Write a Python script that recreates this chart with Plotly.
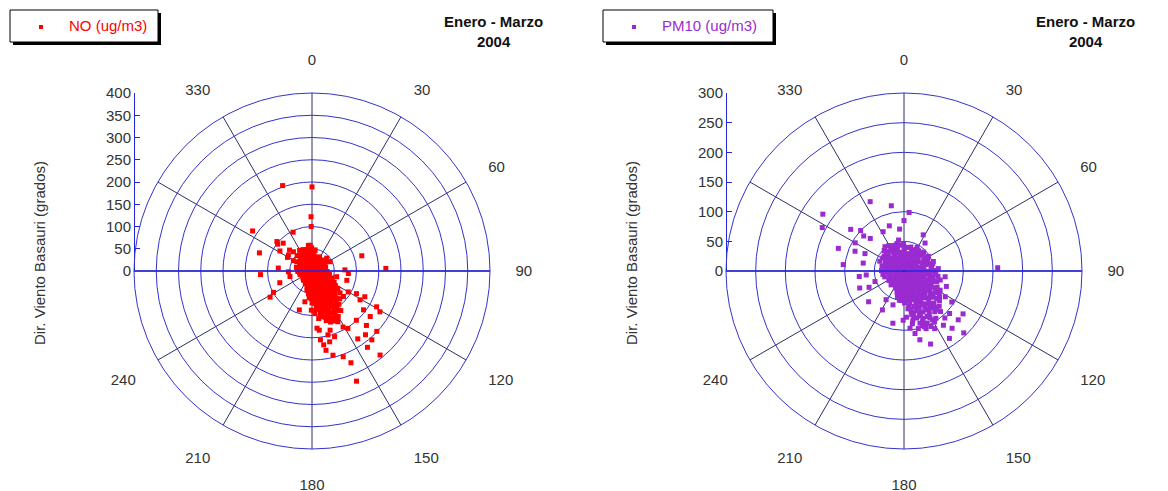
import plotly.graph_objects as go

# ---------------- data (direction in degrees, concentration in ug/m3) -------------
no_obs = [
    # dense core
    (0, 8), (2, 18), (358, 28), (1, 40), (359, 52),
    (10, 12), (12, 22), (9, 34), (8, 46),
    (20, 10), (22, 20), (18, 32),
    (30, 14), (32, 26), (28, 36),
    (45, 10), (47, 22), (43, 34),
    (60, 12), (62, 24), (58, 40),
    (75, 8), (77, 20), (73, 32),
    (90, 14), (88, 26), (92, 34),
    (100, 10), (102, 20), (98, 30), (101, 40),
    (110, 6), (112, 16), (108, 26), (111, 36), (109, 48),
    (120, 12), (122, 22), (118, 32), (121, 42), (119, 52), (122, 62),
    (126, 58), (124, 70),
    (130, 8), (132, 18), (128, 28), (131, 38), (129, 48), (132, 58), (130, 68), (128, 80),
    (136, 44), (134, 64), (137, 76), (135, 88),
    (140, 12), (142, 24), (138, 34), (141, 44), (139, 54), (142, 64), (140, 74), (138, 84), (141, 96),
    (145, 20), (146, 40), (144, 60), (147, 70), (145, 80), (143, 90), (146, 100), (144, 110),
    (150, 8), (152, 18), (148, 28), (151, 38), (149, 48), (152, 58), (150, 68), (148, 78),
    (151, 88), (149, 98), (152, 108), (150, 118), (153, 128),
    (155, 14), (156, 34), (154, 54), (157, 64), (155, 74), (153, 84), (156, 94), (154, 104),
    (157, 114), (155, 124),
    (160, 10), (162, 22), (158, 32), (161, 42), (159, 52), (162, 62), (160, 72), (158, 82),
    (161, 92), (159, 102), (162, 112), (160, 122),
    (165, 26), (166, 46), (164, 66), (167, 76), (165, 86), (163, 96), (166, 106), (164, 116),
    (170, 6), (172, 16), (168, 28), (171, 38), (169, 48), (172, 58), (170, 68), (168, 78),
    (171, 88), (169, 100), (172, 108),
    (175, 34), (176, 54), (174, 74), (177, 90),
    (180, 12), (182, 22), (178, 32), (181, 42), (179, 52), (182, 62), (180, 72),
    (190, 8), (192, 18), (188, 28), (191, 40), (189, 52),
    (200, 14), (202, 24), (198, 36),
    (210, 10), (212, 20), (208, 32),
    (225, 8), (227, 18), (223, 28),
    (240, 12), (242, 22),
    (255, 8), (257, 18), (253, 28),
    (270, 12), (272, 24), (268, 32),
    (285, 10), (287, 22), (283, 36),
    (300, 6), (302, 16), (298, 28), (301, 40),
    (315, 12), (317, 24), (313, 36), (316, 48),
    (330, 10), (332, 20), (328, 30), (331, 42), (329, 54),
    (345, 8), (347, 16), (343, 26), (346, 38), (344, 50),
    (5, 14), (6, 30), (4, 44), (355, 20), (354, 36), (352, 46), (15, 16), (16, 28),
    (25, 18), (38, 20), (38, 30), (52, 18), (52, 30), (67, 16), (68, 30), (82, 18),
    (83, 30), (95, 20), (105, 26), (105, 36), (115, 20), (115, 32), (115, 44), (117, 56),
    (127, 36), (126, 48), (133, 52), (133, 70), (137, 56), (143, 30), (143, 50), (147, 92),
    (148, 104), (152, 114), (153, 122), (157, 44), (158, 120), (163, 58), (164, 108),
    (167, 36), (167, 56), (168, 92), (173, 44), (173, 64), (173, 82), (176, 96), (177, 20),
    (185, 30), (185, 46), (186, 60), (195, 30), (195, 44), (205, 28), (217, 16), (217, 26),
    (232, 16), (232, 26), (247, 16), (262, 18), (262, 28), (278, 18), (278, 30), (292, 18),
    (292, 30), (308, 22), (308, 34), (322, 18), (322, 32), (322, 44), (337, 14), (337, 28),
    (337, 40), (337, 52), (352, 58),
    (150, 13), (150, 23), (150, 33), (150, 43), (150, 53), (150, 63), (150, 73), (150, 83),
    (150, 93), (150, 103), (160, 16), (160, 27), (160, 37), (160, 47), (160, 57), (160, 67),
    (160, 77), (160, 87), (160, 97), (160, 107), (170, 11), (170, 22), (170, 33), (170, 43),
    (170, 53), (170, 63), (170, 73), (170, 83), (140, 18), (140, 29), (140, 39), (140, 49),
    (140, 59), (140, 69), (140, 79), (130, 13), (130, 23), (130, 33), (130, 43), (130, 53),
    (130, 63), (180, 17), (180, 27), (180, 37), (180, 47), (180, 57), (120, 17), (120, 27),
    (120, 37), (120, 47),
    # scattered points
    (0, 189), (341, 203), (359, 122), (359, 100), (304, 161), (334, 97), (308, 98),
    (314, 90), (289, 125), (275, 76), (266, 116), (250, 77), (88, 74), (94, 82),
    (316, 60), (304, 64), (338, 51), (356, 58), (8, 48), (49, 44), (63, 46), (268, 53),
    (256, 51), (103, 57), (88, 166), (241, 99), (73, 117), (238, 111), (193, 71),
    (198, 92), (173, 134), (166, 164), (166, 195), (160, 205), (157, 224), (158, 267),
    (141, 243), (144, 212), (139, 205), (133, 199), (121, 178), (146, 184), (148, 152),
    (138, 149), (135, 173), (128, 166), (127, 145), (121, 126), (116, 132), (117, 112),
    (120, 94), (129, 91), (146, 106), (153, 123), (151, 144), (163, 139), (166, 148),
    (161, 156), (173, 156), (171, 168), (170, 181), (175, 129), (181, 88), (168, 101),
    (105, 81), (119, 166), (140, 187), (310, 103), (302, 85), (313, 69), (299, 63), (299, 48),
]

pm10_obs = [
    # dense core
    (0, 6), (2, 16), (358, 26), (1, 36), (359, 46),
    (15, 10), (17, 20), (13, 30), (16, 42),
    (30, 8), (32, 18), (28, 28), (31, 38), (29, 46),
    (45, 12), (47, 24), (43, 36), (46, 46),
    (60, 8), (62, 18), (58, 28), (61, 38), (59, 48),
    (75, 14), (77, 26), (73, 38), (76, 50),
    (90, 8), (92, 18), (88, 28), (91, 40), (89, 52),
    (100, 14), (102, 26), (98, 38), (101, 50), (99, 58),
    (110, 8), (112, 18), (108, 30), (111, 42), (109, 54),
    (120, 14), (122, 24), (118, 36), (121, 48), (119, 60), (122, 70),
    (130, 8), (132, 20), (128, 32), (131, 44), (129, 56), (132, 66), (130, 78),
    (136, 50), (134, 62), (137, 74), (135, 84),
    (140, 14), (142, 26), (138, 38), (141, 50), (139, 60), (142, 70), (140, 80), (138, 92),
    (145, 20), (146, 44), (144, 56), (147, 66), (145, 76), (143, 86), (146, 96),
    (150, 8), (152, 18), (148, 30), (151, 40), (149, 50), (152, 60), (150, 70), (148, 80),
    (151, 90), (149, 100),
    (155, 24), (156, 46), (154, 56), (157, 66), (155, 76), (153, 86), (156, 96), (154, 104),
    (160, 12), (162, 24), (158, 36), (161, 46), (159, 56), (162, 66), (160, 76), (158, 86),
    (161, 96), (159, 104),
    (165, 30), (166, 50), (164, 62), (167, 72), (165, 82), (163, 92), (166, 100),
    (170, 6), (172, 18), (168, 30), (171, 40), (169, 50), (172, 60), (170, 70), (168, 80), (171, 90),
    (175, 24), (176, 44), (174, 64), (177, 78),
    (180, 12), (182, 22), (178, 34), (181, 44), (179, 54),
    (190, 8), (192, 18), (188, 30), (191, 42), (189, 50),
    (200, 14), (202, 26), (198, 38),
    (210, 8), (212, 18), (208, 30),
    (225, 12), (227, 22), (223, 32),
    (240, 8), (242, 18), (238, 30),
    (255, 12), (257, 24), (253, 34),
    (270, 8), (272, 18), (268, 28), (271, 38),
    (285, 14), (287, 26), (283, 38),
    (300, 8), (302, 18), (298, 30), (301, 42),
    (315, 12), (317, 24), (313, 36), (316, 48),
    (330, 8), (332, 18), (328, 30), (331, 40), (329, 50),
    (345, 14), (347, 26), (343, 38), (346, 48),
    (352, 20), (353, 32), (351, 44),
    (22, 14), (23, 26), (21, 38),
    (37, 20), (38, 32), (36, 42),
    (52, 16), (53, 30), (51, 42),
    (67, 20), (68, 34), (66, 44),
    (82, 10), (83, 22), (81, 34), (82, 46),
    (95, 20), (96, 32), (94, 44), (95, 54),
    (105, 22), (106, 34), (104, 46),
    (115, 12), (116, 24), (114, 38), (115, 50), (116, 62),
    (125, 26), (126, 40), (124, 52), (125, 64), (126, 74),
    (185, 16), (186, 28), (184, 40), (185, 50),
    (195, 22), (196, 36), (194, 46),
    (205, 20), (206, 32),
    (218, 16), (219, 28),
    (232, 14), (233, 26),
    (248, 14), (249, 26),
    (262, 14), (263, 26), (261, 36),
    (278, 20), (279, 32),
    (292, 10), (293, 22), (291, 34), (292, 44),
    (308, 16), (309, 30), (307, 42),
    (322, 16), (323, 28), (321, 42), (322, 52),
    (338, 12), (339, 24), (337, 36), (338, 46),
    (0, 21), (0, 41), (8, 12), (8, 28), (8, 40), (22, 34), (30, 23), (30, 42), (45, 18),
    (45, 30), (45, 42), (60, 23), (60, 43), (75, 20), (75, 32), (75, 44), (90, 14), (90, 23),
    (90, 34), (90, 46), (100, 20), (100, 32), (100, 44), (110, 13), (110, 24), (110, 36),
    (110, 48), (120, 19), (120, 30), (120, 42), (120, 54), (120, 64), (130, 14), (130, 26),
    (130, 38), (130, 50), (130, 60), (130, 72), (140, 20), (140, 32), (140, 44), (140, 55),
    (140, 65), (140, 75), (140, 86), (150, 13), (150, 24), (150, 35), (150, 45), (150, 55),
    (150, 65), (150, 75), (150, 85), (150, 95), (160, 18), (160, 30), (160, 41), (160, 51),
    (160, 61), (160, 71), (160, 81), (160, 91), (160, 100), (170, 12), (170, 24), (170, 35),
    (170, 45), (170, 55), (170, 65), (170, 75), (170, 85), (180, 17), (180, 28), (180, 39),
    (180, 49), (190, 13), (190, 24), (190, 36), (200, 20), (200, 32), (215, 12), (215, 24),
    (240, 13), (240, 24), (270, 13), (270, 23), (270, 33), (300, 13), (300, 24), (300, 36),
    (315, 18), (315, 30), (315, 42), (330, 13), (330, 24), (330, 35), (330, 45), (345, 20),
    (345, 32), (345, 43),
    # scattered points
    (334, 130), (349, 112), (5, 99), (0, 85), (342, 80), (354, 71), (308, 114), (313, 100),
    (311, 90), (314, 79), (332, 75), (350, 53), (28, 69), (37, 59), (289, 117), (300, 95),
    (292, 89), (294, 72), (276, 103), (281, 70), (263, 76), (250, 52), (245, 65), (72, 52),
    (86, 58), (108, 58), (88, 158), (298, 156), (305, 167), (264, 64), (229, 79), (209, 75),
    (198, 60), (212, 57), (192, 90), (170, 107), (167, 119), (160, 131), (140, 126),
    (146, 137), (136, 145), (132, 123), (126, 123), (133, 105), (139, 105), (144, 113),
    (152, 110), (159, 100), (123, 96), (122, 82), (118, 69), (110, 76), (104, 63), (98, 70),
    (181, 83), (174, 97), (249, 80),
]

no_dir = [d for d, v in no_obs]
no_val = [v for d, v in no_obs]
pm10_dir = [d for d, v in pm10_obs]
pm10_val = [v for d, v in pm10_obs]

dir_ticks = [0, 30, 60, 90, 120, 150, 180, 210, 240, 270, 300, 330]
dir_labels = ["0", "30", "60", "90", "120", "150", "180", "210", "240", "", "", "330"]
no_ticks = [0, 50, 100, 150, 200, 250, 300, 350, 400]
pm10_ticks = [0, 50, 100, 150, 200, 250, 300]

# ---------------- layout helpers --------------------------------------------------
W, H = 1168, 491
FONT = "Liberation Sans, Arial, sans-serif"
NO_COLOR = "#ff0000"
PM_COLOR = "#9a2bd0"
CIRCLE = "#3333cc"
SPOKE = "#2e2e66"
AXIS_BLUE = "#2424e0"


def px(x):
    return x / W


def py(y):
    return 1 - y / H


R = 178
left_c = (312, 271)
right_c = (904, 271)


def polar_layout(c, rmax):
    return dict(
        domain=dict(x=[px(c[0] - R), px(c[0] + R)], y=[py(c[1] + R), py(c[1] - R)]),
        bgcolor="rgba(0,0,0,0)",
        angularaxis=dict(
            direction="clockwise", rotation=90,
            tickmode="array", tickvals=dir_ticks, ticktext=dir_labels,
            ticks="outside", ticklen=22, tickcolor="rgba(0,0,0,0)",
            tickfont=dict(family=FONT, size=15, color="#333333"),
            showgrid=True, gridcolor=SPOKE, gridwidth=1,
            showline=True, linecolor=CIRCLE, linewidth=1,
        ),
        radialaxis=dict(
            range=[0, rmax], tick0=0, dtick=50,
            showticklabels=False, ticks="", showline=False,
            showgrid=True, gridcolor=CIRCLE, gridwidth=1,
        ),
    )


fig = go.Figure()
fig.add_trace(go.Scatterpolar(
    r=no_val, theta=no_dir, mode="markers", subplot="polar", name="NO (ug/m3)",
    marker=dict(symbol="square", size=5, color=NO_COLOR, line=dict(width=0)),
    showlegend=False,
))
fig.add_trace(go.Scatterpolar(
    r=pm10_val, theta=pm10_dir, mode="markers", subplot="polar2", name="PM10 (ug/m3)",
    marker=dict(symbol="square", size=5, color=PM_COLOR, line=dict(width=0)),
    showlegend=False,
))
# empty traces so the value axes are drawn
fig.add_trace(go.Scatter(x=[], y=[], xaxis="x", yaxis="y", showlegend=False))
fig.add_trace(go.Scatter(x=[], y=[], xaxis="x2", yaxis="y2", showlegend=False))


def yaxis_layout(c, ticks):
    return dict(
        domain=[py(c[1]), py(c[1] - R)], range=[0, ticks[-1]],
        anchor="free", position=px(c[0] - R), automargin=False,
        showline=True, linecolor=AXIS_BLUE, linewidth=1,
        ticks="inside", ticklen=5, tickcolor=AXIS_BLUE,
        tickmode="array", tickvals=ticks,
        tickfont=dict(family=FONT, size=15, color="#333333"),
        showgrid=False, zeroline=False,
    )


shapes = []
annotations = []
for c in [left_c, right_c]:
    shapes.append(dict(type="line", xref="paper", yref="paper",
                       x0=px(c[0] - R), x1=px(c[0] + R), y0=py(c[1]), y1=py(c[1]),
                       line=dict(color=AXIS_BLUE, width=1.3), layer="above"))
    annotations.append(dict(xref="paper", yref="paper", x=px(c[0] + 181), y=py(31),
                            text="<b>Enero - Marzo</b><br><b>2004</b>", showarrow=False,
                            xanchor="center", yanchor="middle", align="center",
                            font=dict(family=FONT, size=15, color="#111111")))
    annotations.append(dict(xref="paper", yref="paper", x=px(c[0] - 272), y=py(253),
                            text="Dir. Viento Basauri (grados)", textangle=-90,
                            showarrow=False, xanchor="center", yanchor="middle",
                            font=dict(family=FONT, size=15, color="#333333")))

for x0, x1, color, label in [(10, 158, NO_COLOR, "NO (ug/m3)"), (603, 773, PM_COLOR, "PM10 (ug/m3)")]:
    shapes.append(dict(type="rect", xref="paper", yref="paper",
                       x0=px(x0 + 3), x1=px(x1 + 3), y0=py(45), y1=py(13),
                       fillcolor="#000000", line=dict(width=0), layer="above"))
    shapes.append(dict(type="rect", xref="paper", yref="paper",
                       x0=px(x0), x1=px(x1), y0=py(42), y1=py(10),
                       fillcolor="#ffffff", line=dict(color="#000000", width=1), layer="above"))
    shapes.append(dict(type="rect", xref="paper", yref="paper",
                       x0=px(x0 + 29), x1=px(x0 + 33), y0=py(29), y1=py(25),
                       fillcolor=color, line=dict(width=0), layer="above"))
    annotations.append(dict(xref="paper", yref="paper", x=px(x0 + 57), y=py(26),
                            text=label, showarrow=False, xanchor="left", yanchor="middle",
                            font=dict(family=FONT, size=15, color=color)))

fig.update_layout(
    width=W, height=H,
    margin=dict(l=0, r=0, t=0, b=0, pad=0, autoexpand=False),
    paper_bgcolor="#ffffff", plot_bgcolor="rgba(0,0,0,0)",
    showlegend=False,
    polar=polar_layout(left_c, 400),
    polar2=polar_layout(right_c, 300),
    xaxis=dict(domain=[px(left_c[0] - R), px(left_c[0] + R)], visible=False, range=[-1, 1]),
    xaxis2=dict(domain=[px(right_c[0] - R), px(right_c[0] + R)], visible=False, range=[-1, 1]),
    yaxis=yaxis_layout(left_c, no_ticks),
    yaxis2=yaxis_layout(right_c, pm10_ticks),
    shapes=shapes,
    annotations=annotations,
)

fig.write_html(
    "out.html",
    config={"displayModeBar": False},
    post_script="document.body.style.margin='0';document.body.style.overflow='hidden';",
)
